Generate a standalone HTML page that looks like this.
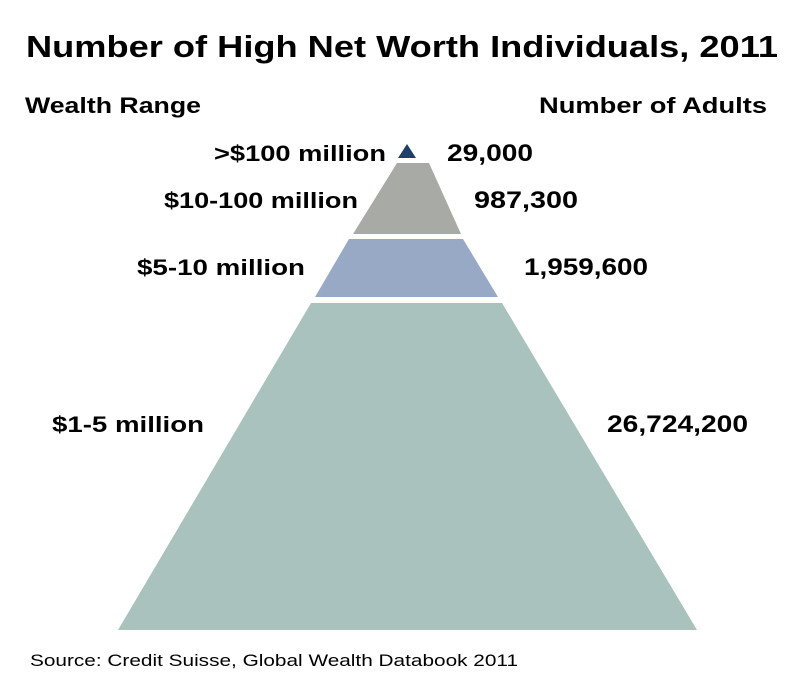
<!DOCTYPE html>
<html><head><meta charset="utf-8"><style>
html,body{margin:0;padding:0;background:#fff;}
svg{display:block;font-family:"Liberation Sans",sans-serif;}
</style></head><body>
<svg id="chart" width="800" height="681" viewBox="0 0 800 681">
<text x="26" y="57" font-size="31" font-weight="bold" textLength="752" lengthAdjust="spacingAndGlyphs">Number of High Net Worth Individuals, 2011</text>
<text x="25" y="113" font-size="22" font-weight="bold" textLength="176" lengthAdjust="spacingAndGlyphs">Wealth Range</text>
<text x="767" y="113" font-size="22" font-weight="bold" text-anchor="end" textLength="228" lengthAdjust="spacingAndGlyphs">Number of Adults</text>
<g id="layers"></g>
<text x="30" y="666" font-size="17" textLength="488" lengthAdjust="spacingAndGlyphs">Source: Credit Suisse, Global Wealth Databook 2011</text>
</svg>
<script>
const categories = [">$100 million", "$10-100 million", "$5-10 million", "$1-5 million"];
const values = [29000, 987300, 1959600, 26724200];
const colors = ["#1f3f6b", "#a8aaa5", "#98a9c6", "#a9c2bd"];
// layer geometry (shape only): [topY, bottomY, topL, topR, botL, botR]
const geom = [
  [144,158,407,407,398,416],
  [163,234,397,429,353,461],
  [239,297,349,463,315,498],
  [303,630,311,502,118,697]
];
// [labelRightX, baselineY, valueLeftX, labelWidth, valueWidth]
const labelPos = [[386,161,447,172,86],[358,208,474,194,104],[305,275,524,168,124],[204,432,607,152,141]];
const g = document.getElementById('layers');
const NS = "http://www.w3.org/2000/svg";
function fmt(v){return v.toLocaleString('en-US');}
categories.forEach((c,i)=>{
  const [t,b,tl,tr,bl,br]=geom[i];
  const p=document.createElementNS(NS,'polygon');
  p.setAttribute('points',`${tl},${t} ${tr},${t} ${br},${b} ${bl},${b}`);
  p.setAttribute('fill',colors[i]);
  
  
  g.appendChild(p);
  const [lx,ly,vx,lw,vw]=labelPos[i];
  const lt=document.createElementNS(NS,'text');
  lt.setAttribute('x',lx);lt.setAttribute('y',ly);
  lt.setAttribute('text-anchor','end');lt.setAttribute('font-size','22');lt.setAttribute('font-weight','bold');
  lt.setAttribute('textLength',lw);
  lt.setAttribute('lengthAdjust','spacingAndGlyphs');
  lt.textContent=c;
  
  
  g.appendChild(lt);
  const vt=document.createElementNS(NS,'text');
  vt.setAttribute('x',vx);vt.setAttribute('y',ly);
  vt.setAttribute('font-size','24');vt.setAttribute('font-weight','bold');
  vt.setAttribute('textLength',vw);
  vt.setAttribute('lengthAdjust','spacingAndGlyphs');
  vt.textContent=fmt(values[i]);
  
  
  g.appendChild(vt);
});
</script>
</body></html>
